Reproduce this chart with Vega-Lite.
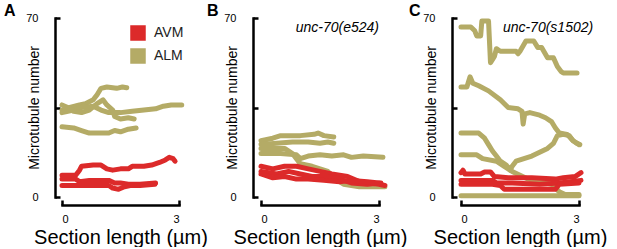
{
  "$schema": "https://vega.github.io/schema/vega-lite/v6.json",
  "padding": {"left": 4, "top": 3, "right": 0, "bottom": 0},
  "config": {
    "font": "Liberation Sans",
    "view": {"stroke": null},
    "axis": {"grid": false, "domainColor": "#000", "domainWidth": 2.5, "domainCap": "square", "tickColor": "#000", "tickWidth": 2.5, "tickSize": -5, "labelFontSize": 11, "labelColor": "#000", "titleFontWeight": "normal", "titleColor": "#000"}
  },
  "datasets": {
    "lines": [
      {"p":"A","c":"ALM","s":"A1","x":0,"y":34},{"p":"A","c":"ALM","s":"A1","x":0.2,"y":35},{"p":"A","c":"ALM","s":"A1","x":0.45,"y":36},{"p":"A","c":"ALM","s":"A1","x":0.6,"y":36.5},{"p":"A","c":"ALM","s":"A1","x":0.8,"y":38},{"p":"A","c":"ALM","s":"A1","x":0.9,"y":40},{"p":"A","c":"ALM","s":"A1","x":1.0,"y":42.5},{"p":"A","c":"ALM","s":"A1","x":1.15,"y":43},{"p":"A","c":"ALM","s":"A1","x":1.4,"y":42.5},{"p":"A","c":"ALM","s":"A1","x":1.55,"y":43},{"p":"A","c":"ALM","s":"A1","x":1.66,"y":42.7},
      {"p":"A","c":"ALM","s":"A2","x":0,"y":33},{"p":"A","c":"ALM","s":"A2","x":0.3,"y":34},{"p":"A","c":"ALM","s":"A2","x":0.5,"y":35},{"p":"A","c":"ALM","s":"A2","x":0.8,"y":35.5},{"p":"A","c":"ALM","s":"A2","x":1.0,"y":34},{"p":"A","c":"ALM","s":"A2","x":1.2,"y":33},{"p":"A","c":"ALM","s":"A2","x":1.5,"y":33},{"p":"A","c":"ALM","s":"A2","x":1.8,"y":33.5},{"p":"A","c":"ALM","s":"A2","x":2.1,"y":34},{"p":"A","c":"ALM","s":"A2","x":2.4,"y":34.5},{"p":"A","c":"ALM","s":"A2","x":2.6,"y":35.5},{"p":"A","c":"ALM","s":"A2","x":2.8,"y":36},{"p":"A","c":"ALM","s":"A2","x":3.07,"y":36},
      {"p":"A","c":"ALM","s":"A3","x":0,"y":36},{"p":"A","c":"ALM","s":"A3","x":0.15,"y":35},{"p":"A","c":"ALM","s":"A3","x":0.3,"y":33.5},{"p":"A","c":"ALM","s":"A3","x":0.5,"y":33},{"p":"A","c":"ALM","s":"A3","x":0.7,"y":34},{"p":"A","c":"ALM","s":"A3","x":0.9,"y":36.5},{"p":"A","c":"ALM","s":"A3","x":1.05,"y":38},{"p":"A","c":"ALM","s":"A3","x":1.15,"y":36},{"p":"A","c":"ALM","s":"A3","x":1.3,"y":34},{"p":"A","c":"ALM","s":"A3","x":1.35,"y":31.5},{"p":"A","c":"ALM","s":"A3","x":1.5,"y":30.5},{"p":"A","c":"ALM","s":"A3","x":1.7,"y":31},{"p":"A","c":"ALM","s":"A3","x":1.85,"y":30.5},
      {"p":"A","c":"ALM","s":"A4","x":0,"y":27.5},{"p":"A","c":"ALM","s":"A4","x":0.3,"y":27},{"p":"A","c":"ALM","s":"A4","x":0.5,"y":26},{"p":"A","c":"ALM","s":"A4","x":0.7,"y":25},{"p":"A","c":"ALM","s":"A4","x":1.0,"y":25},{"p":"A","c":"ALM","s":"A4","x":1.2,"y":25},{"p":"A","c":"ALM","s":"A4","x":1.35,"y":26},{"p":"A","c":"ALM","s":"A4","x":1.5,"y":25.5},{"p":"A","c":"ALM","s":"A4","x":1.7,"y":26.5},{"p":"A","c":"ALM","s":"A4","x":1.9,"y":27},
      {"p":"A","c":"AVM","s":"A5","x":0,"y":8.5},{"p":"A","c":"AVM","s":"A5","x":0.35,"y":8.5},{"p":"A","c":"AVM","s":"A5","x":0.45,"y":10.5},{"p":"A","c":"AVM","s":"A5","x":0.5,"y":12},{"p":"A","c":"AVM","s":"A5","x":0.8,"y":12.5},{"p":"A","c":"AVM","s":"A5","x":1.0,"y":12.5},{"p":"A","c":"AVM","s":"A5","x":1.15,"y":11},{"p":"A","c":"AVM","s":"A5","x":1.3,"y":10.5},{"p":"A","c":"AVM","s":"A5","x":1.5,"y":11},{"p":"A","c":"AVM","s":"A5","x":1.7,"y":11},{"p":"A","c":"AVM","s":"A5","x":1.8,"y":12},{"p":"A","c":"AVM","s":"A5","x":2.1,"y":12},{"p":"A","c":"AVM","s":"A5","x":2.3,"y":12.5},{"p":"A","c":"AVM","s":"A5","x":2.5,"y":13.5},{"p":"A","c":"AVM","s":"A5","x":2.65,"y":14.5},{"p":"A","c":"AVM","s":"A5","x":2.75,"y":15.5},{"p":"A","c":"AVM","s":"A5","x":2.85,"y":15},{"p":"A","c":"AVM","s":"A5","x":2.9,"y":14},
      {"p":"A","c":"AVM","s":"A6","x":0,"y":7},{"p":"A","c":"AVM","s":"A6","x":0.35,"y":7},{"p":"A","c":"AVM","s":"A6","x":0.45,"y":6},{"p":"A","c":"AVM","s":"A6","x":0.7,"y":6.5},{"p":"A","c":"AVM","s":"A6","x":1.0,"y":6.5},{"p":"A","c":"AVM","s":"A6","x":1.2,"y":6.5},{"p":"A","c":"AVM","s":"A6","x":1.35,"y":5.5},{"p":"A","c":"AVM","s":"A6","x":1.5,"y":5.5},{"p":"A","c":"AVM","s":"A6","x":1.7,"y":5},{"p":"A","c":"AVM","s":"A6","x":2.0,"y":5},{"p":"A","c":"AVM","s":"A6","x":2.4,"y":5.5},
      {"p":"A","c":"AVM","s":"A7","x":0,"y":4.5},{"p":"A","c":"AVM","s":"A7","x":0.4,"y":4.5},{"p":"A","c":"AVM","s":"A7","x":0.8,"y":4.5},{"p":"A","c":"AVM","s":"A7","x":1.2,"y":4.5},{"p":"A","c":"AVM","s":"A7","x":1.3,"y":3.5},{"p":"A","c":"AVM","s":"A7","x":1.45,"y":3},{"p":"A","c":"AVM","s":"A7","x":1.6,"y":4},{"p":"A","c":"AVM","s":"A7","x":1.75,"y":4.5},{"p":"A","c":"AVM","s":"A7","x":2.0,"y":4.5},{"p":"A","c":"AVM","s":"A7","x":2.38,"y":5},

      {"p":"B","c":"ALM","s":"B1","x":0,"y":22},{"p":"B","c":"ALM","s":"B1","x":0.3,"y":23},{"p":"B","c":"ALM","s":"B1","x":0.5,"y":24},{"p":"B","c":"ALM","s":"B1","x":1.0,"y":24},{"p":"B","c":"ALM","s":"B1","x":1.35,"y":24.5},{"p":"B","c":"ALM","s":"B1","x":1.45,"y":25},{"p":"B","c":"ALM","s":"B1","x":1.6,"y":24},{"p":"B","c":"ALM","s":"B1","x":1.85,"y":23.5},
      {"p":"B","c":"ALM","s":"B2","x":0,"y":20.5},{"p":"B","c":"ALM","s":"B2","x":0.4,"y":21},{"p":"B","c":"ALM","s":"B2","x":0.8,"y":21.5},{"p":"B","c":"ALM","s":"B2","x":1.2,"y":21.5},{"p":"B","c":"ALM","s":"B2","x":1.5,"y":21},{"p":"B","c":"ALM","s":"B2","x":1.7,"y":21.5},{"p":"B","c":"ALM","s":"B2","x":1.85,"y":21},
      {"p":"B","c":"ALM","s":"B3","x":0,"y":17},{"p":"B","c":"ALM","s":"B3","x":0.5,"y":17},{"p":"B","c":"ALM","s":"B3","x":0.9,"y":16.5},{"p":"B","c":"ALM","s":"B3","x":1.0,"y":15},{"p":"B","c":"ALM","s":"B3","x":1.2,"y":16},{"p":"B","c":"ALM","s":"B3","x":1.5,"y":16.5},{"p":"B","c":"ALM","s":"B3","x":1.8,"y":16},{"p":"B","c":"ALM","s":"B3","x":2.1,"y":16.5},{"p":"B","c":"ALM","s":"B3","x":2.3,"y":15.5},{"p":"B","c":"ALM","s":"B3","x":2.6,"y":16},{"p":"B","c":"ALM","s":"B3","x":3.1,"y":15.5},
      {"p":"B","c":"ALM","s":"B4","x":0,"y":19},{"p":"B","c":"ALM","s":"B4","x":0.6,"y":19},{"p":"B","c":"ALM","s":"B4","x":0.8,"y":17},{"p":"B","c":"ALM","s":"B4","x":0.9,"y":15},{"p":"B","c":"ALM","s":"B4","x":1.0,"y":13},{"p":"B","c":"ALM","s":"B4","x":1.3,"y":12},{"p":"B","c":"ALM","s":"B4","x":1.7,"y":10},{"p":"B","c":"ALM","s":"B4","x":1.9,"y":7},{"p":"B","c":"ALM","s":"B4","x":2.1,"y":5},{"p":"B","c":"ALM","s":"B4","x":2.5,"y":4},{"p":"B","c":"ALM","s":"B4","x":3.15,"y":4},
      {"p":"B","c":"AVM","s":"B5","x":0,"y":12},{"p":"B","c":"AVM","s":"B5","x":0.3,"y":11},{"p":"B","c":"AVM","s":"B5","x":0.6,"y":12},{"p":"B","c":"AVM","s":"B5","x":0.9,"y":12},{"p":"B","c":"AVM","s":"B5","x":1.2,"y":11},{"p":"B","c":"AVM","s":"B5","x":1.5,"y":10},{"p":"B","c":"AVM","s":"B5","x":1.8,"y":9},{"p":"B","c":"AVM","s":"B5","x":2.2,"y":8},{"p":"B","c":"AVM","s":"B5","x":2.5,"y":6},{"p":"B","c":"AVM","s":"B5","x":3.0,"y":5},{"p":"B","c":"AVM","s":"B5","x":3.15,"y":4.5},
      {"p":"B","c":"AVM","s":"B6","x":0,"y":10},{"p":"B","c":"AVM","s":"B6","x":0.4,"y":9},{"p":"B","c":"AVM","s":"B6","x":0.7,"y":10},{"p":"B","c":"AVM","s":"B6","x":1.0,"y":9},{"p":"B","c":"AVM","s":"B6","x":1.3,"y":8},{"p":"B","c":"AVM","s":"B6","x":1.7,"y":8},{"p":"B","c":"AVM","s":"B6","x":2.0,"y":7},{"p":"B","c":"AVM","s":"B6","x":2.3,"y":5.5},{"p":"B","c":"AVM","s":"B6","x":2.7,"y":5},{"p":"B","c":"AVM","s":"B6","x":3.05,"y":5.5},
      {"p":"B","c":"AVM","s":"B7","x":0,"y":9},{"p":"B","c":"AVM","s":"B7","x":0.3,"y":7.5},{"p":"B","c":"AVM","s":"B7","x":0.6,"y":8},{"p":"B","c":"AVM","s":"B7","x":0.9,"y":7},{"p":"B","c":"AVM","s":"B7","x":1.2,"y":7},{"p":"B","c":"AVM","s":"B7","x":1.6,"y":6.5},{"p":"B","c":"AVM","s":"B7","x":2.0,"y":6},{"p":"B","c":"AVM","s":"B7","x":2.3,"y":6.5},{"p":"B","c":"AVM","s":"B7","x":2.7,"y":6},{"p":"B","c":"AVM","s":"B7","x":3.0,"y":5.5},

      {"p":"C","c":"ALM","s":"C1","x":0,"y":66.5},{"p":"C","c":"ALM","s":"C1","x":0.25,"y":66.5},{"p":"C","c":"ALM","s":"C1","x":0.35,"y":65},{"p":"C","c":"ALM","s":"C1","x":0.4,"y":63},{"p":"C","c":"ALM","s":"C1","x":0.5,"y":63},{"p":"C","c":"ALM","s":"C1","x":0.53,"y":68.8},{"p":"C","c":"ALM","s":"C1","x":0.7,"y":68.8},{"p":"C","c":"ALM","s":"C1","x":0.75,"y":52.5},{"p":"C","c":"ALM","s":"C1","x":0.85,"y":55},{"p":"C","c":"ALM","s":"C1","x":0.9,"y":58},{"p":"C","c":"ALM","s":"C1","x":1.0,"y":57},{"p":"C","c":"ALM","s":"C1","x":1.4,"y":57},{"p":"C","c":"ALM","s":"C1","x":1.45,"y":56},{"p":"C","c":"ALM","s":"C1","x":1.5,"y":57},{"p":"C","c":"ALM","s":"C1","x":1.65,"y":61},{"p":"C","c":"ALM","s":"C1","x":1.85,"y":61},{"p":"C","c":"ALM","s":"C1","x":1.95,"y":58.5},{"p":"C","c":"ALM","s":"C1","x":2.05,"y":58.5},{"p":"C","c":"ALM","s":"C1","x":2.2,"y":54.5},{"p":"C","c":"ALM","s":"C1","x":2.35,"y":54.5},{"p":"C","c":"ALM","s":"C1","x":2.45,"y":51},{"p":"C","c":"ALM","s":"C1","x":2.55,"y":49},{"p":"C","c":"ALM","s":"C1","x":2.6,"y":48.5},{"p":"C","c":"ALM","s":"C1","x":2.95,"y":48.5},
      {"p":"C","c":"ALM","s":"C2","x":0,"y":43},{"p":"C","c":"ALM","s":"C2","x":0.15,"y":43},{"p":"C","c":"ALM","s":"C2","x":0.23,"y":47},{"p":"C","c":"ALM","s":"C2","x":0.3,"y":44.5},{"p":"C","c":"ALM","s":"C2","x":0.45,"y":43.5},{"p":"C","c":"ALM","s":"C2","x":0.7,"y":41.5},{"p":"C","c":"ALM","s":"C2","x":1.0,"y":38},{"p":"C","c":"ALM","s":"C2","x":1.2,"y":35},{"p":"C","c":"ALM","s":"C2","x":1.45,"y":34.5},{"p":"C","c":"ALM","s":"C2","x":1.55,"y":33.5},{"p":"C","c":"ALM","s":"C2","x":1.58,"y":28.5},{"p":"C","c":"ALM","s":"C2","x":1.62,"y":32.5},{"p":"C","c":"ALM","s":"C2","x":1.75,"y":33},{"p":"C","c":"ALM","s":"C2","x":2.0,"y":32},{"p":"C","c":"ALM","s":"C2","x":2.15,"y":31},{"p":"C","c":"ALM","s":"C2","x":2.3,"y":29.5},{"p":"C","c":"ALM","s":"C2","x":2.4,"y":27},{"p":"C","c":"ALM","s":"C2","x":2.5,"y":25},{"p":"C","c":"ALM","s":"C2","x":2.7,"y":24.5},{"p":"C","c":"ALM","s":"C2","x":2.85,"y":22},{"p":"C","c":"ALM","s":"C2","x":3.0,"y":20.5},
      {"p":"C","c":"ALM","s":"C3","x":0,"y":25},{"p":"C","c":"ALM","s":"C3","x":0.45,"y":25},{"p":"C","c":"ALM","s":"C3","x":0.6,"y":23},{"p":"C","c":"ALM","s":"C3","x":0.7,"y":20.5},{"p":"C","c":"ALM","s":"C3","x":0.8,"y":18},{"p":"C","c":"ALM","s":"C3","x":0.9,"y":16},{"p":"C","c":"ALM","s":"C3","x":1.0,"y":14},{"p":"C","c":"ALM","s":"C3","x":1.15,"y":12.5},{"p":"C","c":"ALM","s":"C3","x":1.25,"y":10.5},{"p":"C","c":"ALM","s":"C3","x":1.3,"y":12},{"p":"C","c":"ALM","s":"C3","x":1.4,"y":14},{"p":"C","c":"ALM","s":"C3","x":1.6,"y":15},{"p":"C","c":"ALM","s":"C3","x":1.8,"y":16},{"p":"C","c":"ALM","s":"C3","x":2.0,"y":17.5},{"p":"C","c":"ALM","s":"C3","x":2.2,"y":19},{"p":"C","c":"ALM","s":"C3","x":2.35,"y":21},{"p":"C","c":"ALM","s":"C3","x":2.45,"y":24},{"p":"C","c":"ALM","s":"C3","x":2.6,"y":24.5},{"p":"C","c":"ALM","s":"C3","x":2.75,"y":24},{"p":"C","c":"ALM","s":"C3","x":2.85,"y":22},{"p":"C","c":"ALM","s":"C3","x":2.95,"y":21},{"p":"C","c":"ALM","s":"C3","x":3.02,"y":20.5},
      {"p":"C","c":"ALM","s":"C4","x":0,"y":16.5},{"p":"C","c":"ALM","s":"C4","x":0.4,"y":16.5},{"p":"C","c":"ALM","s":"C4","x":0.55,"y":15},{"p":"C","c":"ALM","s":"C4","x":0.9,"y":14},{"p":"C","c":"ALM","s":"C4","x":1.1,"y":12},{"p":"C","c":"ALM","s":"C4","x":1.3,"y":10},{"p":"C","c":"ALM","s":"C4","x":1.5,"y":8.5},{"p":"C","c":"ALM","s":"C4","x":1.7,"y":7},{"p":"C","c":"ALM","s":"C4","x":2.0,"y":6},{"p":"C","c":"ALM","s":"C4","x":2.3,"y":5},{"p":"C","c":"ALM","s":"C4","x":2.4,"y":3.5},{"p":"C","c":"ALM","s":"C4","x":2.5,"y":2},{"p":"C","c":"ALM","s":"C4","x":2.65,"y":1},{"p":"C","c":"ALM","s":"C4","x":3.0,"y":1},
      {"p":"C","c":"ALM","s":"C5","x":0,"y":0.5},{"p":"C","c":"ALM","s":"C5","x":1.0,"y":0.5},{"p":"C","c":"ALM","s":"C5","x":2.0,"y":0.5},{"p":"C","c":"ALM","s":"C5","x":3.0,"y":0.5},
      {"p":"C","c":"AVM","s":"C6","x":0,"y":9.5},{"p":"C","c":"AVM","s":"C6","x":0.05,"y":10.5},{"p":"C","c":"AVM","s":"C6","x":0.1,"y":9},{"p":"C","c":"AVM","s":"C6","x":0.5,"y":9},{"p":"C","c":"AVM","s":"C6","x":0.6,"y":9.8},{"p":"C","c":"AVM","s":"C6","x":0.75,"y":9.8},{"p":"C","c":"AVM","s":"C6","x":0.85,"y":8},{"p":"C","c":"AVM","s":"C6","x":1.2,"y":7.5},{"p":"C","c":"AVM","s":"C6","x":1.8,"y":7.5},{"p":"C","c":"AVM","s":"C6","x":2.4,"y":7},{"p":"C","c":"AVM","s":"C6","x":2.6,"y":7.5},{"p":"C","c":"AVM","s":"C6","x":2.9,"y":8},{"p":"C","c":"AVM","s":"C6","x":3.05,"y":9.5},
      {"p":"C","c":"AVM","s":"C7","x":0,"y":6.5},{"p":"C","c":"AVM","s":"C7","x":0.8,"y":6.5},{"p":"C","c":"AVM","s":"C7","x":0.9,"y":5.5},{"p":"C","c":"AVM","s":"C7","x":1.3,"y":5.5},{"p":"C","c":"AVM","s":"C7","x":2.0,"y":5},{"p":"C","c":"AVM","s":"C7","x":2.5,"y":5.5},{"p":"C","c":"AVM","s":"C7","x":3.05,"y":6.5},
      {"p":"C","c":"AVM","s":"C8","x":0,"y":5},{"p":"C","c":"AVM","s":"C8","x":0.8,"y":5},{"p":"C","c":"AVM","s":"C8","x":1.0,"y":4.5},{"p":"C","c":"AVM","s":"C8","x":1.1,"y":3},{"p":"C","c":"AVM","s":"C8","x":2.4,"y":3},{"p":"C","c":"AVM","s":"C8","x":2.5,"y":5},{"p":"C","c":"AVM","s":"C8","x":3.0,"y":5.5}
    ]
  },
  "spacing": 82,
  "bounds": "flush",
  "resolve": {"legend": {"color": "independent"}},
  "hconcat": [
    {
      "width": 117, "height": 179,
      "title": {"text": "A", "anchor": "start", "frame": "group", "dx": -58, "fontSize": 16, "fontWeight": "bold", "offset": -7, "color": "#000"},
      "data": {"name": "lines"},
      "transform": [{"filter": "datum.p === 'A'"}],
      "layer": [
        {
          "transform": [{"filter": "datum.c === 'ALM'"}],
          "mark": {"type": "line", "strokeWidth": 5, "strokeCap": "round", "strokeJoin": "round", "clip": false},
          "encoding": {
            "x": {"field": "x", "type": "quantitative", "scale": {"domain": [0, 3], "nice": false}, "axis": {"values": [0, 1, 2, 3], "labelExpr": "datum.value == 0 || datum.value == 3 ? datum.label : ''", "offset": 8, "labelPadding": 13, "title": "Section length (µm)", "titleFontSize": 20, "titlePadding": 3}},
            "y": {"field": "y", "type": "quantitative", "scale": {"domain": [0, 70], "nice": false}, "axis": {"values": [0, 35, 70], "labelExpr": "datum.value == 35 ? '' : datum.label", "offset": 7, "labelPadding": 22, "title": "Microtubule number", "titleFontSize": 14, "titleX": -14, "titleY": 89.5}},
            "color": {"field": "c", "type": "nominal", "scale": {"domain": ["AVM", "ALM"], "range": ["#dc2a2a", "#b4ab66"]},
              "legend": {"orient": "none", "legendX": 68, "legendY": 7, "title": null, "symbolType": "square", "symbolSize": 196, "symbolStrokeColor": "#333", "symbolStrokeWidth": 1.5, "labelFontSize": 14, "labelOffset": 8, "rowPadding": 3, "padding": 0, "labelColor": "#222",
                "encode": {"symbols": {"update": {"fill": {"signal": "datum.value === 'AVM' ? '#dc2a2a' : '#b4ab66'"}, "stroke": {"value": "#333"}, "strokeWidth": {"value": 1.5}, "opacity": {"value": 1}}}}}},
            "detail": {"field": "s"}
          }
        },
        {
          "transform": [{"filter": "datum.c === 'AVM'"}],
          "mark": {"type": "line", "strokeWidth": 5, "strokeCap": "round", "strokeJoin": "round", "clip": false},
          "encoding": {
            "x": {"field": "x", "type": "quantitative"},
            "y": {"field": "y", "type": "quantitative"},
            "color": {"field": "c", "type": "nominal"},
            "detail": {"field": "s"}
          }
        }
      ]
    },
    {
      "width": 118, "height": 179,
      "title": {"text": "B", "anchor": "start", "frame": "group", "dx": -54, "fontSize": 16, "fontWeight": "bold", "offset": -7, "color": "#000"},
      "layer": [
        {
          "data": {"name": "lines"},
          "transform": [{"filter": "datum.p === 'B' && datum.c === 'ALM'"}],
          "mark": {"type": "line", "strokeWidth": 5, "strokeCap": "round", "strokeJoin": "round", "clip": false},
          "encoding": {
            "x": {"field": "x", "type": "quantitative", "scale": {"domain": [0, 3], "nice": false}, "axis": {"values": [0, 1, 2, 3], "labelExpr": "datum.value == 0 || datum.value == 3 ? datum.label : ''", "offset": 8, "labelPadding": 13, "title": "Section length (µm)", "titleFontSize": 20, "titlePadding": 3}},
            "y": {"field": "y", "type": "quantitative", "scale": {"domain": [0, 70], "nice": false}, "axis": {"values": [0, 35, 70], "labelExpr": "datum.value == 35 ? '' : datum.label", "offset": 8, "labelPadding": 22, "title": "Microtubule number", "titleFontSize": 14, "titleX": -14, "titleY": 89.5}},
            "color": {"field": "c", "type": "nominal", "scale": {"domain": ["AVM", "ALM"], "range": ["#dc2a2a", "#b4ab66"]}, "legend": null},
            "detail": {"field": "s"}
          }
        },
        {
          "data": {"name": "lines"},
          "transform": [{"filter": "datum.p === 'B' && datum.c === 'AVM'"}],
          "mark": {"type": "line", "strokeWidth": 5, "strokeCap": "round", "strokeJoin": "round", "clip": false},
          "encoding": {
            "x": {"field": "x", "type": "quantitative"},
            "y": {"field": "y", "type": "quantitative"},
            "color": {"field": "c", "type": "nominal", "legend": null},
            "detail": {"field": "s"}
          }
        },
        {
          "data": {"values": [{}]},
          "mark": {"type": "text", "fontStyle": "italic", "fontSize": 14, "align": "right", "baseline": "middle", "color": "#000"},
          "encoding": {"x": {"datum": 3.0}, "y": {"datum": 66}, "text": {"value": "unc-70(e524)"}}
        }
      ]
    },
    {
      "width": 118, "height": 179,
      "title": {"text": "C", "anchor": "start", "frame": "group", "dx": -52, "fontSize": 16, "fontWeight": "bold", "offset": -7, "color": "#000"},
      "layer": [
        {
          "data": {"name": "lines"},
          "transform": [{"filter": "datum.p === 'C' && datum.c === 'ALM'"}],
          "mark": {"type": "line", "strokeWidth": 5, "strokeCap": "round", "strokeJoin": "round", "clip": false},
          "encoding": {
            "x": {"field": "x", "type": "quantitative", "scale": {"domain": [0, 3], "nice": false}, "axis": {"values": [0, 1, 2, 3], "labelExpr": "datum.value == 0 || datum.value == 3 ? datum.label : ''", "offset": 8, "labelPadding": 13, "title": "Section length (µm)", "titleFontSize": 20, "titlePadding": 3}},
            "y": {"field": "y", "type": "quantitative", "scale": {"domain": [0, 70], "nice": false}, "axis": {"values": [0, 35, 70], "labelExpr": "datum.value == 35 ? '' : datum.label", "offset": 9, "labelPadding": 22, "title": "Microtubule number", "titleFontSize": 14, "titleX": -14, "titleY": 89.5}},
            "color": {"field": "c", "type": "nominal", "scale": {"domain": ["AVM", "ALM"], "range": ["#dc2a2a", "#b4ab66"]}, "legend": null},
            "detail": {"field": "s"}
          }
        },
        {
          "data": {"name": "lines"},
          "transform": [{"filter": "datum.p === 'C' && datum.c === 'AVM'"}],
          "mark": {"type": "line", "strokeWidth": 5, "strokeCap": "round", "strokeJoin": "round", "clip": false},
          "encoding": {
            "x": {"field": "x", "type": "quantitative"},
            "y": {"field": "y", "type": "quantitative"},
            "color": {"field": "c", "type": "nominal", "legend": null},
            "detail": {"field": "s"}
          }
        },
        {
          "data": {"values": [{}]},
          "mark": {"type": "text", "fontStyle": "italic", "fontSize": 14, "align": "right", "baseline": "middle", "color": "#000"},
          "encoding": {"x": {"datum": 3.36}, "y": {"datum": 66}, "text": {"value": "unc-70(s1502)"}}
        }
      ]
    }
  ]
}
